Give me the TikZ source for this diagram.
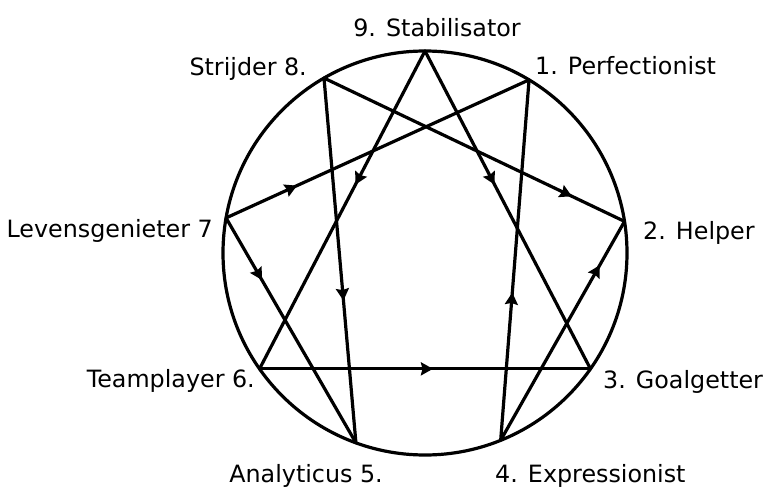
\documentclass[tikz,border=0pt]{standalone}
\usepackage{fontspec}
\setmainfont{DejaVu Sans}
\usetikzlibrary{arrows.meta,decorations.markings,calc}
\tikzset{
  ring/.style={line width=3.2pt},
  edge/.style={line width=3.2pt, line cap=round, line join=round},
  arrowat/.style={postaction={decorate, decoration={markings,
     mark=at position #1 with {\arrow{Stealth[length=12pt,width=13pt,inset=1.5pt]}}}}},
  lbl/.style={inner sep=0pt, font=\fontsize{23.8}{28}\selectfont},
}
\begin{document}
\begin{tikzpicture}[x=1pt,y=1pt]
\useasboundingbox (0,0) rectangle (765,488);
\coordinate (c) at (425,235);
\draw[ring] (c) circle (202);
\coordinate (p9) at ($(c)+(90:202)$);
\coordinate (p1) at ($(c)+(59:202)$);
\coordinate (p2) at ($(c)+(9:202)$);
\coordinate (p3) at ($(c)+(-35:202)$);
\coordinate (p4) at ($(c)+(-68:202)$);
\coordinate (p5) at ($(c)+(-110:202)$);
\coordinate (p6) at ($(c)+(-145:202)$);
\coordinate (p7) at ($(c)+(170:202)$);
\coordinate (p8) at ($(c)+(120:202)$);
% triangle
\draw[edge, arrowat=0.42] (p9) -- (p6);
\draw[edge, arrowat=0.42] (p9) -- (p3);
\draw[edge, arrowat=0.524] (p6) -- (p3);
% hexad
\draw[edge, arrowat=0.234] (p7) -- (p1);
\draw[edge, arrowat=0.276] (p7) -- (p5);
\draw[edge, arrowat=0.61] (p8) -- (p5);
\draw[edge, arrowat=0.825] (p8) -- (p2);
\draw[edge, arrowat=0.41] (p4) -- (p1);
\draw[edge, arrowat=0.80] (p4) -- (p2);
% labels
\node[lbl, anchor=base] (l9) at (437,451) {9. Stabilisator};
\node[lbl, anchor=base east] (l8) at (307,412) {Strijder 8.};
\node[lbl, anchor=base west] (l1) at (535,413) {1. Perfectionist};
\node[lbl, anchor=base east] (l7) at (213,251) {Levensgenieter 7};
\node[lbl, anchor=base west] (l2) at (643,249) {2. Helper};
\node[lbl, anchor=base east] (l6) at (255,101) {Teamplayer 6.};
\node[lbl, anchor=base west] (l3) at (603,100) {3. Goalgetter};
\node[lbl, anchor=base east] (l5) at (383,6) {Analyticus 5.};
\node[lbl, anchor=base west] (l4) at (495,6) {4. Expressionist};
\end{tikzpicture}
\end{document}
